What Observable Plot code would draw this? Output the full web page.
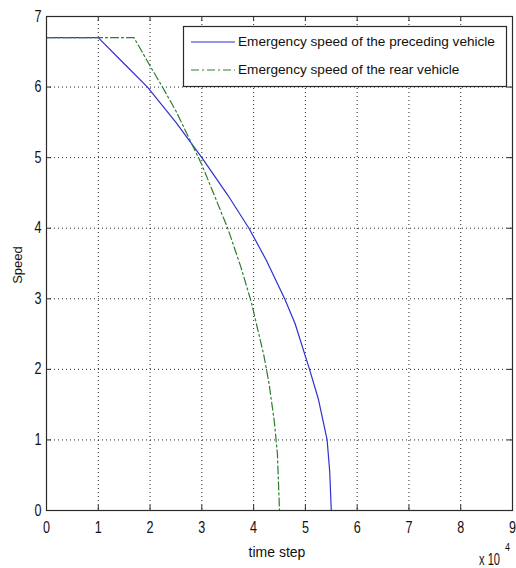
<!DOCTYPE html>
<html>
<head>
<meta charset="utf-8">
<script src="https://cdn.jsdelivr.net/npm/d3@7"></script>
<script src="https://cdn.jsdelivr.net/npm/@observablehq/plot@0.6"></script>
<style>
  html, body { margin: 0; padding: 0; background: #fff; }
  #chart svg { display: block; }
</style>
</head>
<body>
<div id="chart"></div>
<script>
// time step in units of 1e4
const precedingT = [0, 1.0, 1.5, 1.95, 2.5, 3.0, 3.5, 3.91, 4.25, 4.6, 4.8, 5.08, 5.25, 5.42, 5.47, 5.5];
const precedingV = [6.7, 6.7, 6.33, 6.0, 5.5, 5.0, 4.47, 4.0, 3.54, 3.0, 2.65, 2.0, 1.58, 1.0, 0.55, 0];
const rearT = [0, 1.69, 2.0, 2.24, 2.5, 3.0, 3.5, 3.75, 3.96, 4.2, 4.3, 4.4, 4.46, 4.5];
const rearV = [6.7, 6.7, 6.3, 6.0, 5.66, 4.9, 4.0, 3.46, 2.94, 2.19, 1.79, 1.26, 0.8, 0];
const xTicks = [0, 1, 2, 3, 4, 5, 6, 7, 8, 9];
const yTicks = [0, 1, 2, 3, 4, 5, 6, 7];
const seriesNames = ["Emergency speed of the preceding vehicle", "Emergency speed of the rear vehicle"];
const seriesColors = ["#3030d0", "#2e7d2e"];
const xLabel = "time step";
const yLabel = "Speed";
const xMultiplier = ["x 10", "4"];

const preceding = precedingT.map((t, i) => ({t, v: precedingV[i]}));
const rear = rearT.map((t, i) => ({t, v: rearV[i]}));

const W = 516, H = 568;
const mL = 46, mR = 4, mT = 16, mB = 58;
const font = "'Liberation Sans', Arial, sans-serif";
const tickLen = 5;
const axisColor = "#2a2a2a";

const plot = Plot.plot({
  width: W, height: H,
  marginLeft: mL, marginRight: mR, marginTop: mT, marginBottom: mB,
  style: {fontFamily: font, fontSize: "16px", color: "#111", background: "#fff"},
  x: {domain: [0, 9], ticks: xTicks},
  y: {domain: [0, 7], ticks: yTicks},
  marks: [
    Plot.gridX(xTicks.slice(1, -1), {stroke: "#000", strokeOpacity: 0.85, strokeDasharray: "1,3"}),
    Plot.gridY(yTicks.slice(1, -1), {stroke: "#000", strokeOpacity: 0.85, strokeDasharray: "1,3"}),
    Plot.line(preceding, {x: "t", y: "v", stroke: seriesColors[0], strokeWidth: 1.2}),
    Plot.line(rear, {x: "t", y: "v", stroke: seriesColors[1], strokeWidth: 1.2, strokeDasharray: "8,3,2,3"}),
    // inward ticks on all four sides
    Plot.tickX(xTicks, {x: d => d, stroke: axisColor, insetTop: H - mT - mB - tickLen}),
    Plot.tickX(xTicks, {x: d => d, stroke: axisColor, insetBottom: H - mT - mB - tickLen}),
    Plot.tickY(yTicks, {y: d => d, stroke: axisColor, insetRight: W - mL - mR - tickLen}),
    Plot.tickY(yTicks, {y: d => d, stroke: axisColor, insetLeft: W - mL - mR - tickLen}),
    Plot.axisX(xTicks, {tickSize: 0, tickPadding: 11, label: null, fontSize: 16, tickFormat: d => String(d), className: "xtl"}),
    Plot.axisY(yTicks, {tickSize: 0, tickPadding: 5, label: null, fontSize: 16, tickFormat: d => String(d), className: "ytl"}),
    Plot.frame({stroke: axisColor, strokeWidth: 1.2})
  ]
});
document.getElementById("chart").appendChild(plot);

const svg = d3.select(plot);
// narrow tick digits like the original
svg.selectAll(".xtl text, .ytl text").attr("textLength", 7).attr("lengthAdjust", "spacingAndGlyphs");

// axis labels
svg.append("text").attr("x", 277).attr("y", 553).attr("text-anchor", "middle")
  .attr("dominant-baseline", "middle").style("font-family", font).style("font-size", "14px")
  .attr("fill", "#111").text(xLabel);
svg.append("text").attr("transform", "translate(19,265) rotate(-90)")
  .attr("text-anchor", "middle").attr("dominant-baseline", "middle")
  .style("font-family", font).style("font-size", "13px").attr("fill", "#111").text(yLabel);
// x 10^4 multiplier
svg.append("text").attr("x", 479).attr("y", 565).attr("text-anchor", "start")
  .style("font-family", font).style("font-size", "16px").attr("fill", "#111")
  .attr("textLength", 21).attr("lengthAdjust", "spacingAndGlyphs").text(xMultiplier[0]);
svg.append("text").attr("x", 505).attr("y", 551).attr("text-anchor", "start")
  .style("font-family", font).style("font-size", "11px").attr("fill", "#111")
  .attr("textLength", 5).attr("lengthAdjust", "spacingAndGlyphs").text(xMultiplier[1]);

// legend
const lg = svg.append("g");
lg.append("rect").attr("x", 183.5).attr("y", 26.5).attr("width", 323).attr("height", 60)
  .attr("fill", "#fff").attr("stroke", axisColor).attr("stroke-width", 1.2);
const rows = [42, 70];
rows.forEach((y, i) => {
  lg.append("line").attr("x1", 191).attr("x2", 235).attr("y1", y).attr("y2", y)
    .attr("stroke", seriesColors[i]).attr("stroke-width", 1.2)
    .attr("stroke-dasharray", i === 1 ? "8,3,2,3" : null);
  lg.append("text").attr("x", 238).attr("y", y).attr("text-anchor", "start")
    .attr("dominant-baseline", "middle")
    .style("font-family", font).style("font-size", "13.6px").attr("fill", "#111").text(seriesNames[i]);
});
</script>
</body>
</html>
